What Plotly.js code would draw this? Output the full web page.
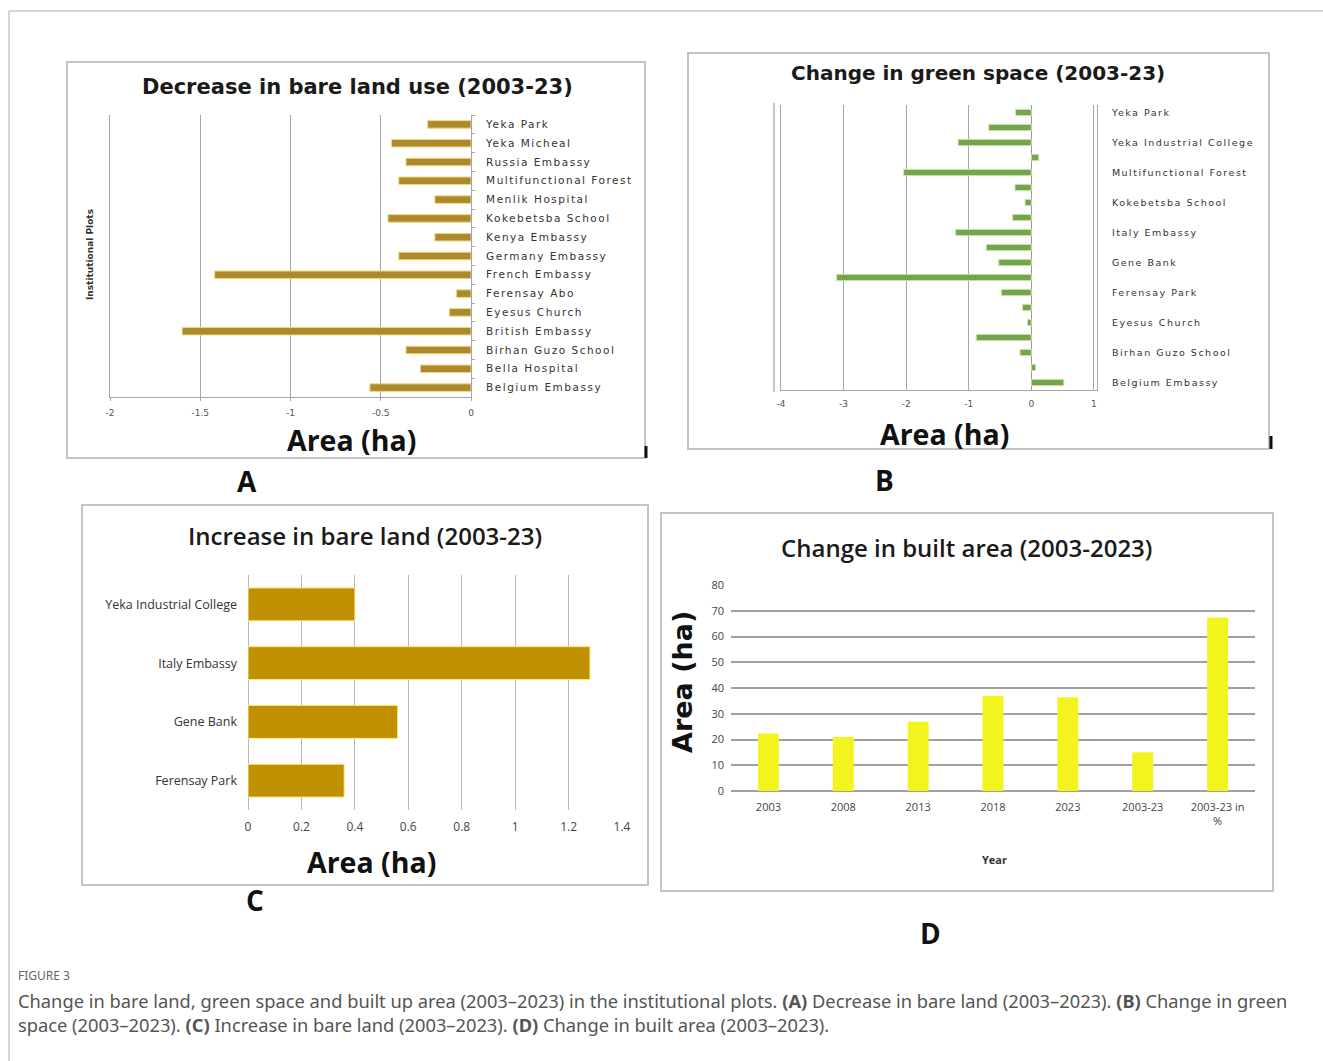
<!DOCTYPE html>
<html>
<head>
<meta charset="utf-8">
<script src="https://cdn.plot.ly/plotly-3.0.1.min.js"></script>
<style>
html,body{margin:0;padding:0;background:#fff;}
#chart{width:1323px;height:1061px;}
#chart .subplot.xy .yaxislayer-above text{letter-spacing:1.5px;}
#chart .subplot.x2y2 .yaxislayer-above text{letter-spacing:1.5px;}
</style>
</head>
<body>
<div id="chart"></div>
<script>
// ---------------- DATA ----------------
// Panel A: Decrease in bare land use (2003-23), listed top to bottom
const aCategories = ["Yeka Park","Yeka Micheal","Russia Embassy","Multifunctional Forest","Menlik Hospital","Kokebetsba School","Kenya Embassy","Germany Embassy","French Embassy","Ferensay Abo","Eyesus Church","British Embassy","Birhan Guzo School","Bella Hospital","Belgium Embassy"];
const aValues = [-0.24,-0.44,-0.36,-0.40,-0.20,-0.46,-0.20,-0.40,-1.42,-0.08,-0.12,-1.60,-0.36,-0.28,-0.56];
const aTicks = [-2,-1.5,-1,-0.5,0];

// Panel B: Change in green space (2003-23), listed top to bottom
const bCategories = ["Yeka Park","Yeka Micheal","Yeka Industrial College","Russia Embassy","Multifunctional Forest","Menlik Hospital","Kokebetsba School","Kenya Embassy","Italy Embassy","Germany Embassy","Gene Bank","French Embassy","Ferensay Park","Ferensay Abo","Eyesus Church","British Embassy","Birhan Guzo School","Bella Hospital","Belgium Embassy"];
const bValues = [-0.25,-0.68,-1.17,0.12,-2.04,-0.26,-0.10,-0.30,-1.21,-0.72,-0.52,-3.11,-0.48,-0.14,-0.06,-0.88,-0.18,0.07,0.52];
const bLabelled = ["Yeka Park","Yeka Industrial College","Multifunctional Forest","Kokebetsba School","Italy Embassy","Gene Bank","Ferensay Park","Eyesus Church","Birhan Guzo School","Belgium Embassy"];
const bTicks = [-4,-3,-2,-1,0,1];

// Panel C: Increase in bare land (2003-23), top to bottom
const cCategories = ["Yeka Industrial College","Italy Embassy","Gene Bank","Ferensay Park"];
const cValues = [0.40,1.28,0.56,0.36];
const cTicks = [0,0.2,0.4,0.6,0.8,1,1.2,1.4];

// Panel D: Change in built area (2003-2023)
const dCategories = ["2003","2008","2013","2018","2023","2003-23","2003-23 in<br>%"];
const dValues = [22.3,21.0,26.9,37.0,36.4,15.0,67.4];

// ---------------- LAYOUT HELPERS ----------------
const W = 1323, H = 1061;
const px = x => x / W;
const py = y => 1 - y / H;

const tickFont = {family: "DejaVu Sans", size: 9, color: "#555"};
const catFont = {family: "DejaVu Sans", size: 10.5, color: "#333"};
const narrowFont = {family: "Open Sans, sans-serif", size: 12.5, color: "#333"};
const gridCol = "#a6a6a6";

const traces = [
  {type: "bar", orientation: "h", x: aValues, y: aCategories, xaxis: "x", yaxis: "y", width: 0.4,
   marker: {color: "#ad892e", line: {color: "#f2d57a", width: 1}}, hoverinfo: "x+y"},
  {type: "bar", orientation: "h", x: bValues, y: bCategories, xaxis: "x2", yaxis: "y2", width: 0.42,
   marker: {color: "#75a54a", line: {color: "#cfe3b8", width: 1}}, hoverinfo: "x+y"},
  {type: "bar", orientation: "h", x: cValues, y: cCategories, xaxis: "x3", yaxis: "y3", width: 0.56,
   marker: {color: "#bf9000", line: {color: "#ffe680", width: 1}}, hoverinfo: "x+y"},
  {type: "bar", x: dCategories, y: dValues, xaxis: "x4", yaxis: "y4", width: 0.28,
   marker: {color: "#f3f31e", line: {width: 0}}, hoverinfo: "x+y"}
];

function box(x0, y0, x1, y1, col, w) {
  return {type: "rect", xref: "paper", yref: "paper", x0: px(x0), x1: px(x1), y0: py(y1), y1: py(y0),
          line: {color: col || "#c4c4c4", width: w || 2}, fillcolor: "rgba(0,0,0,0)", layer: "below"};
}
function seg(x0, y0, x1, y1, col, w) {
  return {type: "line", xref: "paper", yref: "paper", x0: px(x0), x1: px(x1), y0: py(y0), y1: py(y1),
          line: {color: col, width: w}};
}
function ann(text, x, y, font, extra) {
  return Object.assign({text: text, x: px(x), y: py(y), xref: "paper", yref: "paper", borderpad: 0,
          showarrow: false, font: font, xanchor: "center", yanchor: "middle"}, extra || {});
}

const titleFontA = {family: "DejaVu Sans", size: 21, color: "#1a1a1a", weight: 700};
const titleFontB = {family: "DejaVu Sans", size: 20, color: "#1a1a1a", weight: 700};
const titleFontSemi = {family: "Open Sans", size: 24, color: "#1a1a1a", weight: 600};
const areaFont = {family: "Open Sans", size: 28.5, color: "#111", weight: 700};
const letterFont = {family: "Open Sans", size: 28, color: "#111", weight: 700};
const capFont = {family: "Noto Sans", size: 18.3, color: "#555"};

const layout = {
  width: W, height: H, margin: {l: 0, r: 0, t: 0, b: 0},
  paper_bgcolor: "#fff", plot_bgcolor: "rgba(0,0,0,0)", showlegend: false,
  // Panel A
  xaxis: {domain: [px(110), px(471)], anchor: "y", range: [-2, 0], tickmode: "array", tickvals: aTicks,
          ticktext: aTicks.map(String), showgrid: true, gridcolor: gridCol, gridwidth: 1, zeroline: false,
          showline: true, linecolor: gridCol, ticks: "outside", ticklen: 3, tickcolor: gridCol,
          tickfont: tickFont, ticklabelstandoff: 4, fixedrange: true},
  yaxis: {domain: [py(397), py(115)], anchor: "x", autorange: "reversed", side: "right",
          showline: true, mirror: true, linecolor: gridCol, ticks: "outside", tickson: "boundaries",
          ticklen: 3, tickcolor: gridCol, tickfont: catFont, ticklabelstandoff: 12, showgrid: false},
  // Panel B
  xaxis2: {domain: [px(781), px(1097)], anchor: "y2", range: [-4, 1.05], tickmode: "array", tickvals: bTicks,
           ticktext: bTicks.map(String), showgrid: true, gridcolor: gridCol, gridwidth: 1,
           zeroline: true, zerolinecolor: "#999", zerolinewidth: 1,
           showline: true, linecolor: gridCol, tickfont: tickFont, ticklabelstandoff: 5, fixedrange: true},
  yaxis2: {domain: [py(390), py(105)], anchor: "x2", autorange: "reversed", side: "right",
           showline: true, mirror: true, linecolor: gridCol, tickmode: "array", tickvals: bLabelled,
           ticktext: bLabelled, ticks: "", tickfont: {family: "DejaVu Sans", size: 9.5, color: "#333"},
           ticklabelstandoff: 12, showgrid: false},
  // Panel C
  xaxis3: {domain: [px(248), px(622)], anchor: "y3", range: [0, 1.4], tickmode: "array", tickvals: cTicks,
           ticktext: cTicks.map(String), showgrid: true, gridcolor: "#b8b8b8", gridwidth: 1,
           zeroline: true, zerolinecolor: "#b8b8b8", showline: false,
           tickfont: {family: "Open Sans, sans-serif", size: 12, color: "#444"},
           ticklabelstandoff: 8, fixedrange: true},
  yaxis3: {domain: [py(810), py(575)], anchor: "x3", autorange: "reversed", showline: false,
           tickfont: narrowFont, ticklabelstandoff: 10, showgrid: false},
  // Panel D
  xaxis4: {domain: [px(731), px(1255)], anchor: "y4", type: "category", showline: false, showgrid: false,
           tickfont: {family: "Open Sans, sans-serif", size: 11, color: "#444"},
           ticklabelstandoff: 8},
  yaxis4: {domain: [py(791), py(585)], anchor: "x4", range: [0, 80], dtick: 10, showgrid: true,
           gridcolor: "#a0a0a0", gridwidth: 2, zeroline: true, zerolinecolor: "#a0a0a0", zerolinewidth: 2,
           showline: false,
           tickfont: {family: "Open Sans, sans-serif", size: 11, color: "#444"},
           ticklabelstandoff: 6, fixedrange: true},
  shapes: [
    // outer frame
    seg(9, 11, 1323, 11, "#c8c8c8", 1.5),
    seg(9, 11, 9, 1061, "#c8c8c8", 1.5),
    // panel boxes
    box(67, 62, 645, 458),
    box(688, 53, 1269, 449),
    box(82, 505, 648, 885),
    box(661, 513, 1273, 891),
    // small black ticks at box corners
    seg(646, 446, 646, 458, "#111", 3),
    seg(1271, 436, 1271, 449, "#111", 3),
    // B back wall double line
    seg(774, 103, 774, 392, "#b0b0b0", 1.5)
  ],
  annotations: [
    ann("<b>Decrease in bare land use (2003-23)</b>", 357, 87, titleFontA),
    ann("<b>Change in green space (2003-23)</b>", 978, 73, titleFontB),
    ann("Increase in bare land (2003-23)", 365, 535, titleFontSemi),
    ann("Change in built area (2003-2023)", 966, 547, titleFontSemi),
    ann("<b>Area (ha)</b>", 351, 440, areaFont),
    ann("<b>Area (ha)</b>", 944, 434, areaFont),
    ann("<b>Area (ha)</b>", 371, 862, areaFont),
    ann("<b>Area (ha)</b>", 682, 682, {family: "DejaVu Sans", size: 27, color: "#111", weight: 700}, {textangle: -90}),
    ann("<b>Year</b>", 994, 859, {family: "Open Sans", size: 11, color: "#333"}),
    ann("<b>Institutional Plots</b>", 90, 255, {family: "DejaVu Sans", size: 9, color: "#333"}, {textangle: -90}),
    ann("<b>A</b>", 247, 481, letterFont),
    ann("<b>B</b>", 884, 480, letterFont),
    ann("<b>C</b>", 255, 900, letterFont),
    ann("<b>D</b>", 930, 933, letterFont),
    ann("FIGURE 3", 17, 975, {family: "Noto Sans", size: 12, color: "#666"}, {xanchor: "left"}),
    ann("Change in bare land, green space and built up area (2003–2023) in the institutional plots. <b>(A)</b> Decrease in bare land (2003–2023). <b>(B)</b> Change in green<br>space (2003–2023). <b>(C)</b> Increase in bare land (2003–2023). <b>(D)</b> Change in built area (2003–2023).",
        17, 1012, capFont, {xanchor: "left", align: "left"})
  ]
};

Plotly.newPlot("chart", traces, layout, {displayModeBar: false, staticPlot: true});
</script>
</body>
</html>
